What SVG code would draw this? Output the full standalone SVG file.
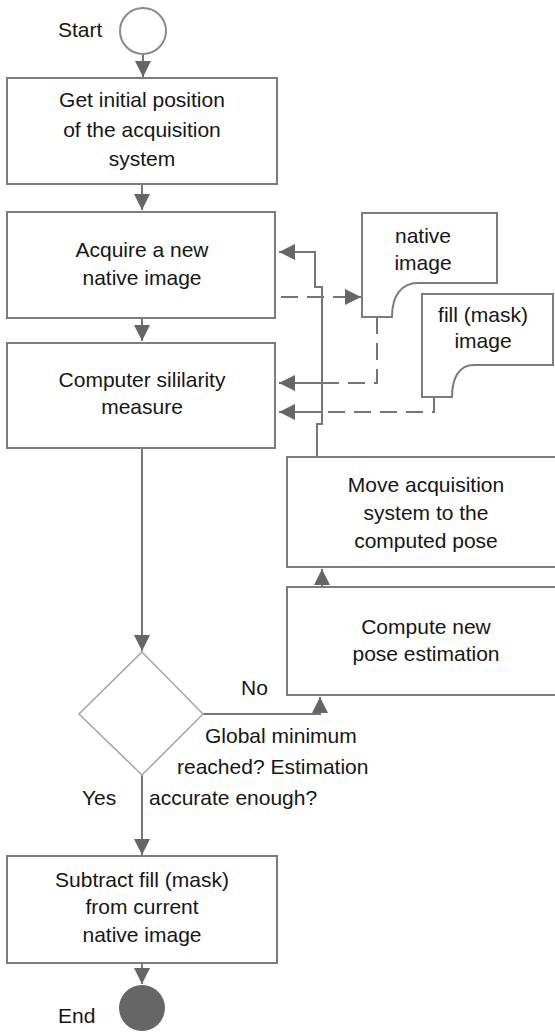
<svg xmlns="http://www.w3.org/2000/svg" width="555" height="1036" viewBox="0 0 555 1036">
  <style>
    .box { fill: #ffffff; stroke: #7c7c7c; stroke-width: 2; }
    .doc { fill: #ffffff; stroke: #7c7c7c; stroke-width: 2; }
    .dia { fill: #ffffff; stroke: #a8a8a8; stroke-width: 1.6; }
    .flow { fill: none; stroke: #767676; stroke-width: 2; }
    .dash { fill: none; stroke: #767676; stroke-width: 2; stroke-dasharray: 17 9; }
    text { font-family: "Liberation Sans", Arial, sans-serif; font-size: 21px; fill: #161616; }
    .c { text-anchor: middle; }
  </style>
  <defs>
    <marker id="arrow" markerUnits="userSpaceOnUse" markerWidth="18" markerHeight="18" viewBox="0 0 18 18" refX="17" refY="9" orient="auto">
      <path d="M1,1 L17,9 L1,17 Z" fill="#666666"/>
    </marker>
  </defs>

  <!-- connectors -->
  <g id="connectors">
    <path class="flow" d="M143,54 V77" marker-end="url(#arrow)"/>
    <path class="flow" d="M142,184 V210" marker-end="url(#arrow)"/>
    <path class="flow" d="M142,318 V341" marker-end="url(#arrow)"/>
    <path class="flow" d="M142,448 V651" marker-end="url(#arrow)"/>
    <path class="flow" d="M142,775 V855" marker-end="url(#arrow)"/>
    <path class="flow" d="M142,963 V984" marker-end="url(#arrow)"/>
    <!-- "No" branch up to the pose estimation -->
    <path class="flow" d="M203,714 H320 V697" marker-end="url(#arrow)"/>
    <path class="flow" d="M322,587 V569" marker-end="url(#arrow)"/>
    <!-- loop back to acquisition and similarity -->
    <path class="flow" d="M317,457 V424 H322 V287 H315 V252 H279" marker-end="url(#arrow)"/>
    <path class="flow" d="M322,383 H279" marker-end="url(#arrow)"/>
    <path class="flow" d="M322,412 H279" marker-end="url(#arrow)"/>
    <!-- data flows -->
    <path class="dash" d="M281,297 H343"/>
    <path class="flow" d="M340,297 H361" marker-end="url(#arrow)"/>
    <path class="dash" d="M377,317 V383 H322"/>
    <path class="dash" d="M434,397 V412 H322"/>
  </g>

  <g id="start">
    <circle cx="143" cy="31" r="23" fill="#ffffff" stroke="#8a8a8a" stroke-width="2"/>
    <text x="58" y="37">Start</text>
  </g>

  <g id="get-position">
    <rect class="box" x="7" y="78" width="270" height="106"/>
    <text class="c" x="142" y="107">Get initial position</text>
    <text class="c" x="142" y="137">of the acquisition</text>
    <text class="c" x="142" y="166">system</text>
  </g>

  <g id="acquire">
    <rect class="box" x="7" y="212" width="268" height="106"/>
    <text class="c" x="142" y="257">Acquire a new</text>
    <text class="c" x="142" y="285">native image</text>
  </g>

  <g id="similarity">
    <rect class="box" x="7" y="343" width="268" height="105"/>
    <text class="c" x="142" y="387">Computer sililarity</text>
    <text class="c" x="142" y="414">measure</text>
  </g>

  <g id="native-image">
    <path class="doc" d="M362,213 H497 V283 H418 C401,283 392,296 392,317 H362 Z"/>
    <text class="c" x="423" y="243">native</text>
    <text class="c" x="423" y="270">image</text>
  </g>

  <g id="mask-image">
    <path class="doc" d="M422,294 H553 V365 H474 C459,365 452,378 452,397 H422 Z"/>
    <text class="c" x="483" y="322">fill (mask)</text>
    <text class="c" x="483" y="348">image</text>
  </g>

  <g id="move">
    <rect class="box" x="287" y="457" width="290" height="110"/>
    <text class="c" x="426" y="492">Move acquisition</text>
    <text class="c" x="426" y="520">system to the</text>
    <text class="c" x="426" y="548">computed pose</text>
  </g>

  <g id="pose">
    <rect class="box" x="287" y="587" width="290" height="108"/>
    <text class="c" x="426" y="634">Compute new</text>
    <text class="c" x="426" y="661">pose estimation</text>
  </g>

  <g id="decision">
    <path class="dia" d="M142,652 L203,714 L142,775 L79,714 Z"/>
    <text x="241" y="695">No</text>
    <text x="205" y="743">Global minimum</text>
    <text x="177" y="774">reached? Estimation</text>
    <text x="149" y="805">accurate enough?</text>
    <text x="82" y="805">Yes</text>
  </g>

  <g id="subtract">
    <rect class="box" x="7" y="856" width="270" height="107"/>
    <text class="c" x="142" y="887">Subtract fill (mask)</text>
    <text class="c" x="142" y="914">from current</text>
    <text class="c" x="142" y="942">native image</text>
  </g>

  <g id="end">
    <circle cx="142" cy="1008" r="23" fill="#666666"/>
    <text x="58" y="1023">End</text>
  </g>
</svg>
